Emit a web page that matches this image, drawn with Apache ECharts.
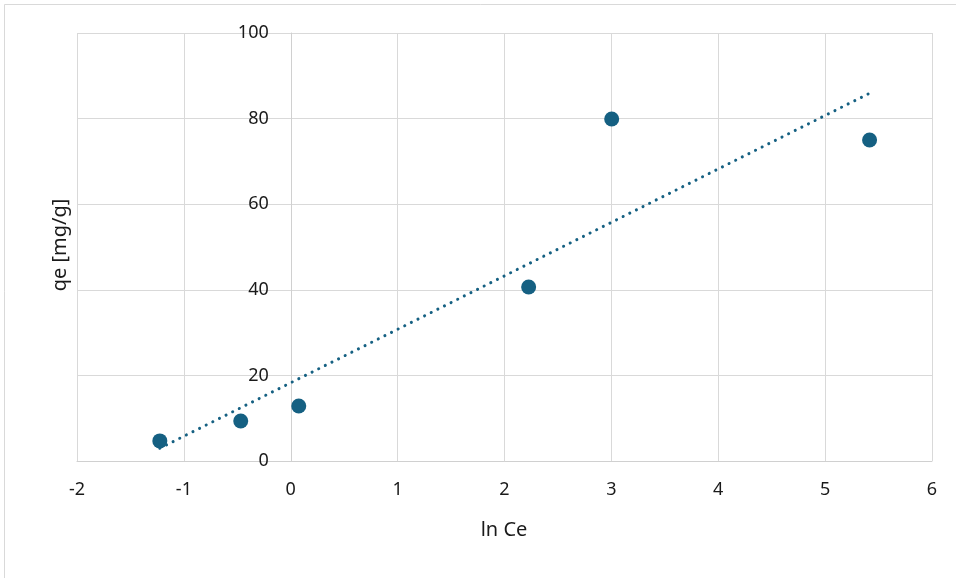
<!DOCTYPE html>
<html>
<head>
<meta charset="utf-8">
<script src="https://cdn.jsdelivr.net/npm/echarts@6/dist/echarts.min.js"></script>
<style>html,body{margin:0;padding:0;background:#fff}#c{width:956px;height:578px}</style>
</head>
<body>
<div id="c"></div>
<script>
// Data
const lnCe = [-1.225, -0.468, 0.075, 2.226, 3.003, 5.416];
const qe = [4.7, 9.35, 12.85, 40.65, 79.9, 75.0];
const xTicks = [-2, -1, 0, 1, 2, 3, 4, 5, 6];
const yTicks = [0, 20, 40, 60, 80, 100];
const xTitle = 'ln Ce';
const yTitle = 'qe [mg/g]';

// Linear trendline (least squares) as in the original spreadsheet chart
const n = lnCe.length;
const mx = lnCe.reduce((a, b) => a + b, 0) / n;
const my = qe.reduce((a, b) => a + b, 0) / n;
let sxy = 0, sxx = 0;
for (let i = 0; i < n; i++) { sxy += (lnCe[i] - mx) * (qe[i] - my); sxx += (lnCe[i] - mx) ** 2; }
const slope = sxy / sxx, icpt = my - slope * mx;
const xMin = Math.min(...lnCe), xMax = Math.max(...lnCe);
const trend = [[xMin, icpt + slope * xMin], [xMax, icpt + slope * xMax]];

const FONT = '"Noto Sans", "Open Sans", sans-serif';
const COL = '#156082';
const GRID_LEFT = 77;
const chart = echarts.init(document.getElementById('c'), null, { renderer: 'canvas' });
chart.setOption({
  animation: false,
  backgroundColor: '#fff',
  grid: { left: GRID_LEFT, right: 24, top: 33, bottom: 117, containLabel: false },
  xAxis: {
    type: 'value', min: xTicks[0], max: xTicks[xTicks.length - 1], interval: 1,
    axisLine: { show: true, onZero: false, lineStyle: { color: '#d0d0d0', width: 1 } },
    axisTick: { show: false },
    axisLabel: { margin: 20, fontSize: 18, color: '#1a1a1a', fontFamily: FONT },
    splitLine: { show: true, lineStyle: { color: '#d9d9d9', width: 1 } }
  },
  yAxis: {
    type: 'value', min: yTicks[0], max: yTicks[yTicks.length - 1], interval: 20,
    position: 'left',
    axisLine: { show: true, onZero: false, lineStyle: { color: '#d0d0d0', width: 1 } },
    axisTick: { show: false },
    axisLabel: { margin: 22, fontSize: 18, color: '#1a1a1a', fontFamily: FONT },
    splitLine: { show: true, lineStyle: { color: '#d9d9d9', width: 1 } }
  },
  series: [
    {
      type: 'line', data: trend, symbol: 'none', silent: true, z: 3,
      lineStyle: { color: COL, width: 3, type: [0.1, 7.3], cap: 'round' }
    },
    {
      type: 'scatter', data: lnCe.map((x, i) => [x, qe[i]]), symbol: 'circle', symbolSize: 15, z: 4,
      itemStyle: { color: COL, opacity: 1 }
    }
  ],
  graphic: [
    { type: 'rect', shape: { x: 4.5, y: 4.5, width: 1200, height: 1200 }, style: { fill: 'none', stroke: '#d9d9d9', lineWidth: 1 }, silent: true, z: -10 },
    { type: 'text', x: 504, y: 530, style: { text: xTitle, fontSize: 20, fontFamily: FONT, fill: '#1a1a1a', textAlign: 'center', textVerticalAlign: 'middle' } },
    { type: 'text', x: 60, y: 245, rotation: Math.PI / 2, style: { text: yTitle, fontSize: 20, fontFamily: FONT, fill: '#1a1a1a', textAlign: 'center', textVerticalAlign: 'middle' } }
  ]
});
// Place the value axis where x = 0, using the x scale of the chart itself
const zeroPx = chart.convertToPixel({ xAxisIndex: 0 }, 0);
chart.setOption({ yAxis: { offset: -(zeroPx - GRID_LEFT) } });
</script>
</body>
</html>
